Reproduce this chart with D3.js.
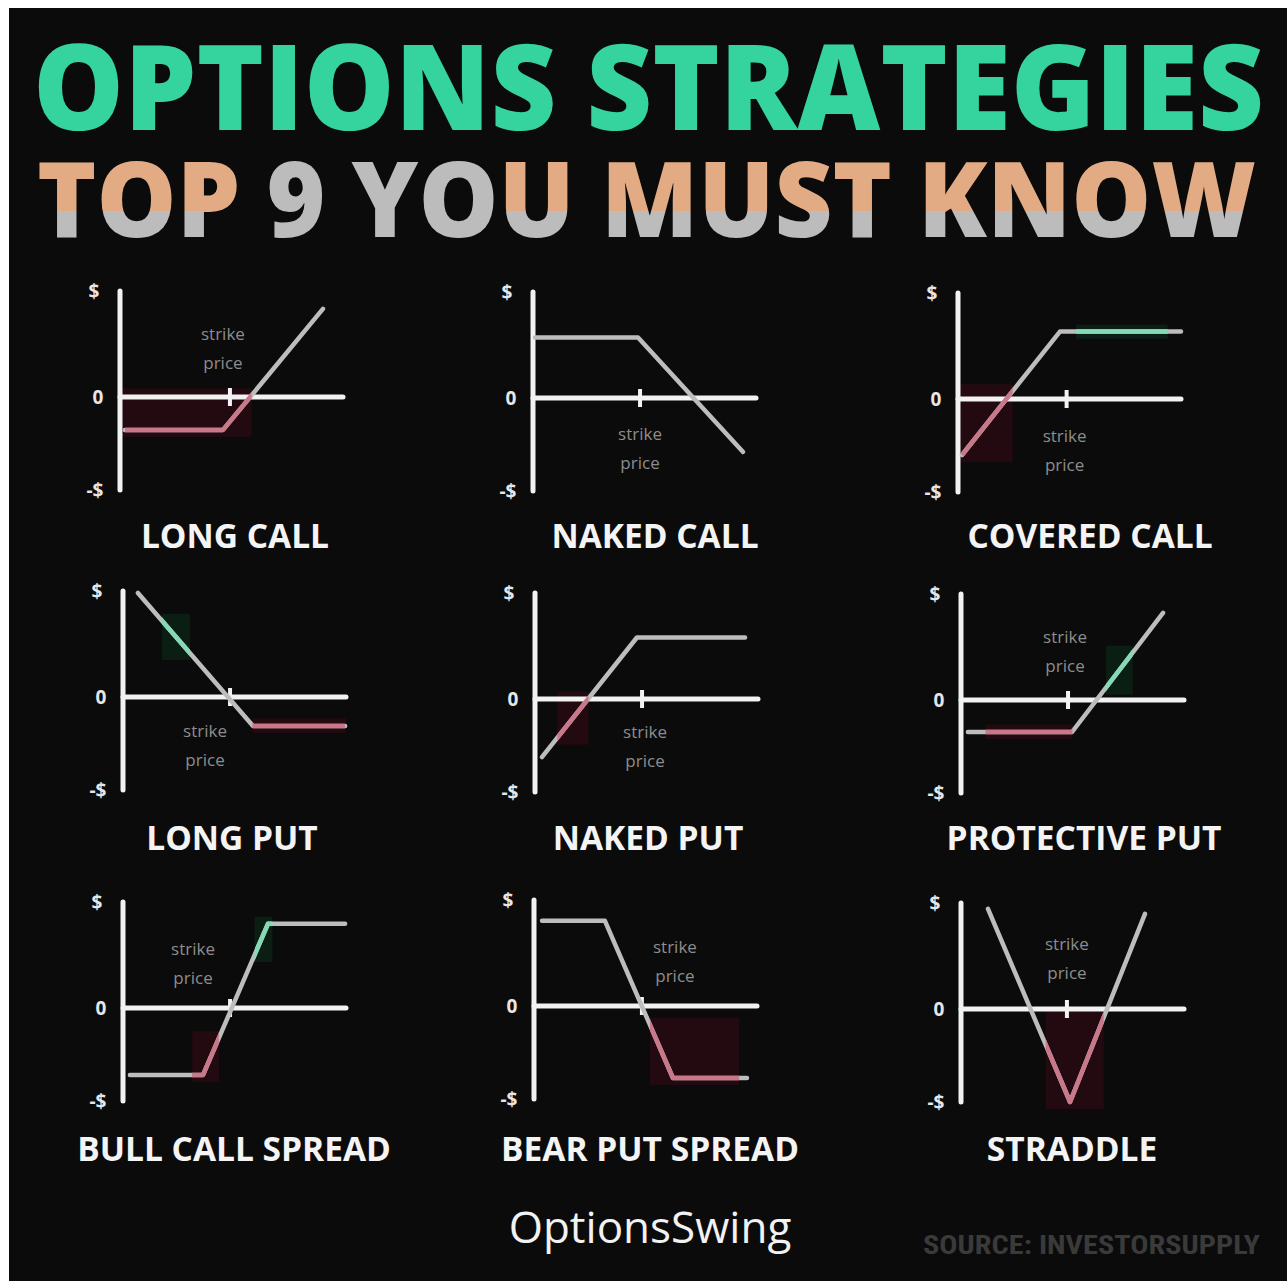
<!DOCTYPE html>
<html><head><meta charset="utf-8">
<script src="https://cdn.jsdelivr.net/npm/d3@7"></script>
<style>html,body{margin:0;padding:0;background:#fff}svg{display:block}</style>
</head><body>
<svg id="c" width="1287" height="1281"></svg>
<script>
// ---------- DATA ----------
const titleLine1 = "OPTIONS STRATEGIES";
const titleLine2 = "TOP 9 YOU MUST KNOW";
const strategies = ["LONG CALL","NAKED CALL","COVERED CALL","LONG PUT","NAKED PUT","PROTECTIVE PUT","BULL CALL SPREAD","BEAR PUT SPREAD","STRADDLE"];
const yTickLabels = ["$","0","-$"];
const strikeText = ["strike","price"];
const brand = "OptionsSwing";
const sourceText = "SOURCE: INVESTORSUPPLY";
// payoff vertices: [underlying price (0-10), profit (-5..5)]
const longCall       = [[0.22,-1.77],[4.62,-1.77],[9.1,4.16]];
const nakedCall      = [[0.09,2.85],[4.71,2.85],[9.42,-2.9]];
const coveredCall    = [[0.18,-3.01],[4.57,3.18],[10,3.18]];
const longPut        = [[0.67,4.91],[5.83,-1.56],[9.96,-1.56]];
const nakedPut       = [[0.31,-3.12],[4.57,2.9],[9.42,2.9]];
const protectivePut  = [[0.31,-1.72],[4.98,-1.72],[9.06,4.11]];
const bullCallSpread = [[0.31,-3.6],[3.59,-3.6],[6.5,3.97],[9.96,3.97]];
const bearPutSpread  = [[0.36,4.02],[3.18,4.02],[6.23,-3.87],[9.55,-3.87]];
const straddle       = [[1.21,4.72],[4.89,-5.0],[8.25,4.49]];
const strikes = [4.93,4.8,4.87,4.8,4.8,4.8,4.8,4.84,4.75];
const payoffs = [longCall,nakedCall,coveredCall,longPut,nakedPut,protectivePut,bullCallSpread,bearPutSpread,straddle];

// ---------- LAYOUT / STYLE ----------
const panelAxisX = [120,533,958,123,535,961,123,534,961];
const panelZeroY = [397,398,399,697,699,700,1008,1006,1009];
const titleCX    = [235,655,1090,232,648,1084,234,650,1072];
const titleBase  = [548,548,548,850,850,850,1161,1161,1161];
const labelDX    = [-7,0,-2,-25,3,-3,-37,33,0];
const labelDY    = [-62,37,38,35,34,-62,-58,-58,-64];
// coloured portions of each curve: [x0, x1, kind] in price units
const highlights = [
  [[0,5.9,"loss"]],
  [],
  [[0,2.45,"loss"],[5.3,9.4,"gain"]],
  [[5.8,10,"loss"],[1.75,3.0,"gain"]],
  [[1.0,2.4,"loss"]],
  [[1.1,5.0,"loss"],[6.5,7.7,"gain"]],
  [[3.1,4.3,"loss"],[5.9,6.7,"gain"]],
  [[5.2,9.2,"loss"]],
  [[3.8,6.4,"loss"]]
];
const W = 1287, H = 1281;
const col = {bg:"#0b0b0b", axis:"#f2f2f2", line:"#bdbdbd", loss:"#c9788a", gain:"#86d9b5",
             lossBg:"#230a10", gainBg:"#0a1e14", label:"#8d8d8d", green:"#35d39d", peach:"#e2ab84", grey:"#bcbcbc"};
const font = "'Open Sans', 'Noto Sans', sans-serif";

const svg = d3.select("#c");
const defs = svg.append("defs");
svg.append("rect").attr("width",W).attr("height",H).attr("fill","#ffffff");
svg.append("rect").attr("x",9).attr("y",8).attr("width",W-9).attr("height",H-8).attr("fill",col.bg);

// title gradient
const g2 = defs.append("linearGradient").attr("id","peachGrey").attr("x1",0).attr("y1",0).attr("x2",0).attr("y2",1);
g2.append("stop").attr("offset","0%").attr("stop-color",col.peach);
g2.append("stop").attr("offset","60%").attr("stop-color",col.peach);
g2.append("stop").attr("offset","60%").attr("stop-color",col.grey);
g2.append("stop").attr("offset","100%").attr("stop-color",col.grey);

svg.append("g").attr("transform","translate(33,130) scale(1,1.15)")
  .append("text").text(titleLine1)
  .attr("x",0).attr("y",0).attr("font-family",font).attr("font-weight",800)
  .attr("font-size",104).attr("textLength",1231).attr("lengthAdjust","spacingAndGlyphs")
  .attr("fill",col.green);

const t2 = svg.append("g").attr("transform","translate(37,237) scale(1,1.09)")
  .append("text").attr("x",0).attr("y",0).attr("font-family",font).attr("font-weight",800)
  .attr("font-size",95.5).attr("textLength",1219).attr("lengthAdjust","spacingAndGlyphs");
const greyIdx = new Set([4,6,7]);
titleLine2.split("").forEach((ch,i)=>{
  t2.append("tspan").text(ch).attr("fill", greyIdx.has(i) ? col.grey : "url(#peachGrey)");
});

// panels
payoffs.forEach((pts,i)=>{
  const ax = panelAxisX[i], zy = panelZeroY[i];
  const x = d3.scaleLinear().domain([0,10]).range([ax, ax+223]);
  const y = d3.scaleLinear().domain([-5,0,5]).range([zy+93, zy, zy-106]);
  const g = svg.append("g");
  const line = d3.line().x(d=>x(d[0])).y(d=>y(d[1]));

  // dark tinted patches behind highlighted parts
  const interp = xv=>{
    for(let k=0;k<pts.length-1;k++){const a=pts[k],b=pts[k+1];
      if(xv>=a[0]&&xv<=b[0]){const t=(xv-a[0])/(b[0]-a[0]);const ya=y(a[1]),yb=y(b[1]);return ya+(yb-ya)*t;}}
    return null;};
  highlights[i].forEach(h=>{
    const seg = pts.filter(p=>p[0]>=h[0]&&p[0]<=h[1]).map(p=>y(p[1]));
    const ys = seg.concat([interp(Math.max(h[0],pts[0][0])),interp(Math.min(h[1],pts[pts.length-1][0]))]).filter(v=>v!==null);
    const y0 = d3.min(ys), y1 = d3.max(ys);
    g.append("rect").attr("x",x(h[0])).attr("width",x(h[1])-x(h[0]))
      .attr("y",y0-7).attr("height",Math.max(14,y1-y0+14))
      .attr("fill",h[2]==="loss"?col.lossBg:col.gainBg);
  });

  // axes
  g.append("line").attr("x1",x(0)).attr("x2",x(0)).attr("y1",y(5)).attr("y2",y(-5))
    .attr("stroke",col.axis).attr("stroke-width",5).attr("stroke-linecap","round");
  g.append("line").attr("x1",x(0)).attr("x2",x(10)).attr("y1",y(0)).attr("y2",y(0))
    .attr("stroke",col.axis).attr("stroke-width",5).attr("stroke-linecap","round");
  g.append("line").attr("x1",x(strikes[i])).attr("x2",x(strikes[i])).attr("y1",y(0)-9).attr("y2",y(0)+9)
    .attr("stroke",col.axis).attr("stroke-width",4);

  // tick labels
  const ly = [y(5), y(0), y(-5)], lx = [ax-26, ax-22, ax-25];
  yTickLabels.forEach((t,k)=>{
    g.append("text").text(t).attr("x",lx[k]).attr("y",ly[k]).attr("dy","0.36em")
      .attr("text-anchor","middle").attr("font-family",font).attr("font-weight",700)
      .attr("font-size",19).attr("fill","#e6e6e6");
  });

  // payoff curve
  g.append("path").attr("d",line(pts)).attr("fill","none").attr("stroke",col.line)
    .attr("stroke-width",4.5).attr("stroke-linejoin","round").attr("stroke-linecap","round");
  highlights[i].forEach((h,k)=>{
    const id = `clip${i}_${k}`;
    defs.append("clipPath").attr("id",id).append("rect")
      .attr("x",x(h[0])).attr("width",x(h[1])-x(h[0])).attr("y",0).attr("height",H);
    g.append("path").attr("d",line(pts)).attr("fill","none")
      .attr("stroke",h[2]==="loss"?col.loss:col.gain).attr("stroke-width",4.5)
      .attr("stroke-linejoin","round").attr("clip-path",`url(#${id})`);
  });

  // strike price label
  strikeText.forEach((t,k)=>{
    g.append("text").text(t).attr("x",x(strikes[i])+labelDX[i]).attr("y",zy+labelDY[i]+k*29)
      .attr("dy","0.32em").attr("text-anchor","middle").attr("font-family",font)
      .attr("font-size",17).attr("fill",col.label);
  });

  // strategy name
  g.append("text").text(strategies[i]).attr("x",titleCX[i]).attr("y",titleBase[i])
    .attr("text-anchor","middle").attr("font-family",font).attr("font-weight",700)
    .attr("font-size",33.5).attr("fill","#f4f4f4");
});

// footer
svg.append("text").text(brand).attr("x",650).attr("y",1243).attr("text-anchor","middle")
  .attr("font-family",font).attr("font-size",44).attr("fill","#f2f2f2");
svg.append("text").text(sourceText).attr("x",923).attr("y",1254)
  .attr("font-family","'Liberation Sans Narrow','Roboto Condensed',sans-serif").attr("font-weight",700)
  .attr("font-size",26).attr("textLength",337).attr("lengthAdjust","spacingAndGlyphs").attr("fill","#3a3a3a");
</script>
</body></html>
